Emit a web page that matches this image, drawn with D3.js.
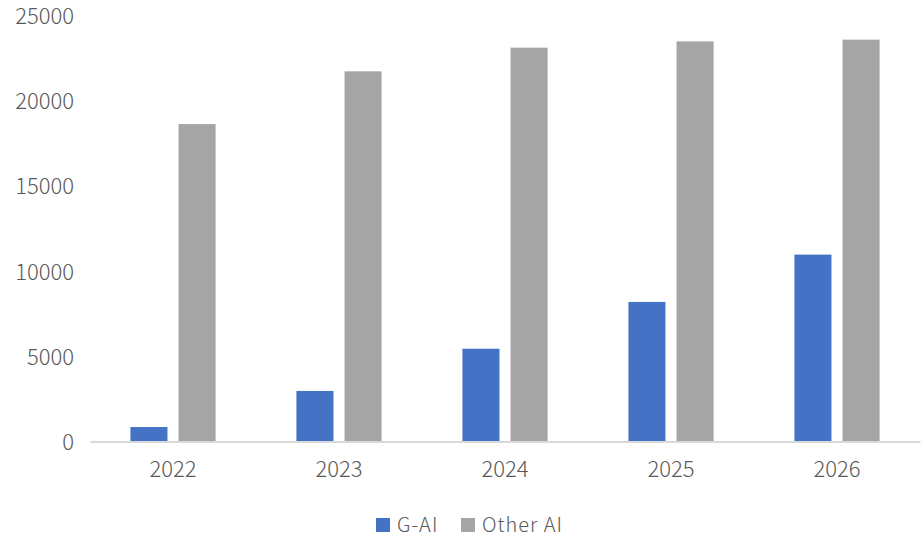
<!DOCTYPE html>
<html><head><meta charset="utf-8">
<script src="https://cdn.jsdelivr.net/npm/d3@7/dist/d3.min.js"></script>
<style>body{margin:0;background:#fff;} text{font-family:"Noto Sans CJK SC","Noto Sans",sans-serif;font-weight:300;}</style>
</head><body>
<svg id="c" width="924" height="540"></svg>
<script>
const categories = ["2022","2023","2024","2025","2026"];
const seriesNames = ["G-AI","Other AI"];
const gaiValues = [850, 2970, 5450, 8200, 10980];
const otherValues = [18650, 21750, 23140, 23510, 23610];
const yTicks = [0,5000,10000,15000,20000,25000];
const colors = ["#4472C4","#A5A5A5"];

const svg = d3.select("#c");
const plotLeft = 90, plotRight = 920, plotTop = 16, plotBottom = 441.5;
const x = d3.scaleBand().domain(categories).range([plotLeft, plotRight]);
const xs = d3.scaleBand().domain(seriesNames).range([0, x.bandwidth()]).paddingInner(0.23).paddingOuter(0.84);
const y = d3.scaleLinear().domain([0,25000]).range([plotBottom, plotTop]);

const data = categories.map((c,i)=>({c, vals:[gaiValues[i], otherValues[i]]}));
const g = svg.append("g");
data.forEach(d=>{
  d.vals.forEach((v,j)=>{
    g.append("rect").attr("x", x(d.c)+xs(seriesNames[j])).attr("width", xs.bandwidth())
     .attr("y", y(v)).attr("height", y(0)-y(v)).attr("fill", colors[j]);
  });
});

const FONT = '"Noto Sans CJK SC","Noto Sans",sans-serif';
// y axis labels
const ya = svg.append("g").attr("transform",`translate(74,0)`)
  .call(d3.axisLeft(y).tickValues(yTicks).tickSize(0).tickPadding(0).tickFormat(d3.format("d")));
ya.select(".domain").remove();
ya.selectAll("text").attr("fill","#595959").attr("font-size","22px").attr("dy","0.35em")
  .attr("font-family",FONT).attr("font-weight",300);

// x axis
const xa = svg.append("g").attr("transform",`translate(0,${plotBottom})`)
  .call(d3.axisBottom(x).tickSize(0).tickPadding(20));
xa.select(".domain").attr("stroke","#d9d9d9").attr("stroke-width",2);
xa.selectAll("text").attr("fill","#595959").attr("font-size","22px")
  .attr("font-family",FONT).attr("font-weight",300);

// legend
const leg = svg.append("g");
const legX = [376, 461];
seriesNames.forEach((n,i)=>{
  leg.append("rect").attr("x", legX[i]).attr("y", 518).attr("width", 14).attr("height", 14).attr("fill", colors[i]);
  leg.append("text").attr("x", legX[i]+21).attr("y", 525).attr("dy","0.35em")
    .attr("fill","#595959").attr("font-size","20px").attr("letter-spacing","1px").attr("font-weight",300).text(n);
});
</script>
</body></html>
